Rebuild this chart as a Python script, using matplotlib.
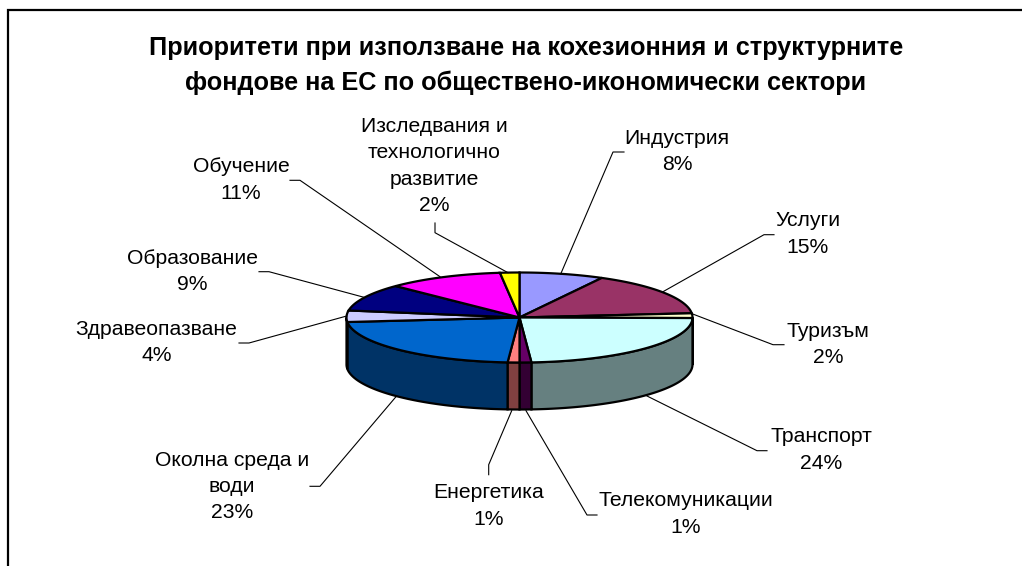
import numpy as np
import matplotlib
matplotlib.use('Agg')
import matplotlib.pyplot as plt

plt.rcParams['font.family'] = ['Liberation Sans', 'DejaVu Sans']

# sectors, clockwise from 12 o'clock
sectors = ['Индустрия', 'Услуги', 'Туризъм', 'Транспорт', 'Телекомуникации', 'Енергетика',
           'Околна среда и\nводи', 'Здравеопазване', 'Образование', 'Обучение',
           'Изследвания и\nтехнологично\nразвитие']
shares = [7.9, 15.6, 1.7, 23.7, 1.1, 1.1, 22.3, 4.1, 9.8, 10.9, 1.8]
share_labels = ['8%', '15%', '2%', '24%', '1%', '1%', '23%', '4%', '9%', '11%', '2%']

top_colors = ['#9999FF', '#993366', '#FFFFCC', '#CCFFFF', '#660066', '#FF8080',
              '#0066CC', '#CCCCFF', '#000080', '#FF00FF', '#FFFF00']
wall_colors = ['#4D4D80', '#4D1A33', '#808066', '#668080', '#330033', '#804040',
               '#003366', '#666680', '#000040', '#800080', '#808000']

label_pos = [(677, 151.5), (808, 234), (828, 344.5), (821, 450), (686, 514), (489, 506.2),
             (232, 486.5), (156.7, 342.5), (192.5, 271.5), (241, 180), (434, 166)]
leaders = [
    [(624, 152), (613, 152), (560.7, 274)],
    [(774, 234.7), (764, 234.7), (663, 291.7)],
    [(784, 344.7), (773, 344.7), (692.7, 314)],
    [(767, 450.7), (757, 450.7), (647, 396)],
    [(597, 515), (587, 515), (526, 410.7)],
    [(488.7, 474.7), (488.7, 464.7), (511.7, 410.7)],
    [(310, 486.3), (320, 486.3), (396, 396.7)],
    [(239, 343), (249, 343), (346.7, 316)],
    [(259, 271.7), (269, 271.7), (364, 297.3)],
    [(290, 180.3), (300, 180.3), (440, 276.7)],
    [(435, 223), (435, 232.7), (508, 272.7)],
]

title = 'Приоритети при използване на кохезионния и структурните\nфондове на ЕС по обществено-икономически сектори'

cx, cy = 519.5, 317.5
rx, ry = 173, 45
depth = 47


def arc(a0, a1):
    # angles in degrees, clockwise from the top of the ellipse
    t = np.radians(np.linspace(a0, a1, max(int(abs(a1 - a0) * 2), 2)))
    return cx + rx * np.sin(t), cy - ry * np.cos(t)


fig = plt.figure(figsize=(10.22, 5.66), dpi=100)
ax = fig.add_axes([0, 0, 1, 1])
ax.set_xlim(0, 1022)
ax.set_ylim(566, 0)
ax.axis('off')

# chart frame, cut off at the right and bottom
ax.plot([7.5, 7.5, 1022], [566, 10, 10], color='black', lw=1.6, solid_joinstyle='miter')

edges = np.concatenate([[0], np.cumsum(shares)]) / np.sum(shares) * 360

# side wall, only the front half of the disc is visible
for a0, a1, wc in zip(edges[:-1], edges[1:], wall_colors):
    lo, hi = max(a0, 90), min(a1, 270)
    if hi <= lo:
        continue
    x, y = arc(lo, hi)
    ax.fill(np.r_[x, x[::-1]], np.r_[y, y[::-1] + depth], facecolor=wc, edgecolor='black', lw=1.6)

# top face
for a0, a1, tc in zip(edges[:-1], edges[1:], top_colors):
    x, y = arc(a0, a1)
    ax.fill(np.r_[cx, x], np.r_[cy, y], facecolor=tc, edgecolor='black', lw=1.6)

for pts in leaders:
    xs, ys = zip(*pts)
    ax.plot(xs, ys, color='black', lw=0.8)

for name, pct, (lx, ly) in zip(sectors, share_labels, label_pos):
    ax.text(lx, ly, name + '\n' + pct, ha='center', va='center', fontsize=15.2,
            linespacing=1.5, color='black')

ax.text(526, 65.5, title, ha='center', va='center', fontsize=18.2, fontweight='bold',
        linespacing=1.55, color='black')

fig.savefig('out.png', dpi=100, facecolor='white')
